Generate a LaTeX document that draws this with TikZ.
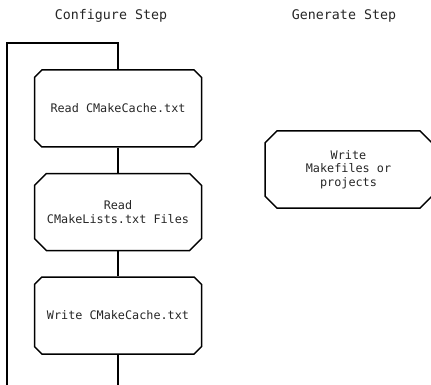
\documentclass[tikz,border=0pt]{standalone}
\usepackage{fontspec}
\setmonofont{DejaVu Sans Mono}
\usetikzlibrary{shapes.misc}
\tikzset{
  stepbox/.style={chamfered rectangle, chamfered rectangle xsep=9pt,
    draw=black, line width=1.5pt, minimum width=167pt, minimum height=77pt,
    inner sep=0pt, align=center, text=black!85,
    font=\ttfamily\fontsize{11.8}{13.4}\selectfont},
  title/.style={text=black!85, font=\ttfamily\fontsize{13.3}{15}\selectfont},
  link/.style={draw=black, line width=1.6pt}
}
\begin{document}
\begin{tikzpicture}[x=1pt, y=-1pt]
  \useasboundingbox (0,0) rectangle (431,385);
  % column headings
  \node[title] (cfgtitle) at (111,16) {Configure Step};
  \node[title] (gentitle) at (344,16) {Generate Step};
  % configure step boxes
  \node[stepbox] (readcache) at (118,108.5) {Read CMakeCache.txt};
  \node[stepbox] (readlists) at (118,212) {Read\\CMakeLists.txt Files};
  \node[stepbox] (writecache) at (118,315.5) {Write CMakeCache.txt};
  % generate step box
  \node[stepbox] (writemake) at (348.5,169.5) {Write\\Makefiles or\\projects};
  % loop back round the configure step
  \coordinate (loopbl) at (7,385);
  \coordinate (looptl) at (7,43);
  \coordinate (looptr) at (118,43);
  \coordinate (loopbr) at (118,385);
  \draw[link] (loopbl) -- (looptl) -- (looptr) -- (readcache.north);
  \draw[link] (readcache.south) -- (readlists.north);
  \draw[link] (readlists.south) -- (writecache.north);
  \draw[link] (writecache.south) -- (loopbr);
\end{tikzpicture}
\end{document}
